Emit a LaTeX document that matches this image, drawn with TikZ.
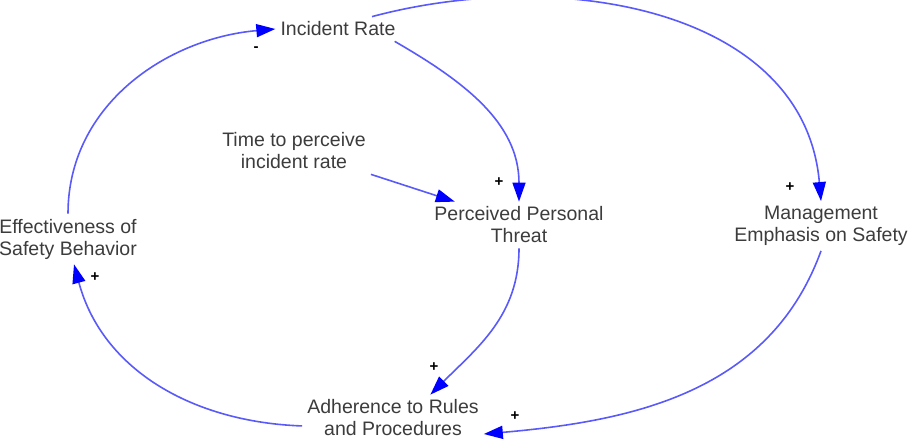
\documentclass[tikz,border=0pt]{standalone}
\usepackage{fontspec}
\setmainfont{Liberation Sans}
\usetikzlibrary{arrows.meta}
\definecolor{linkblue}{RGB}{90,90,250}
\definecolor{textgray}{RGB}{60,60,60}

\begin{document}
\begin{tikzpicture}[x=1pt, y=1pt,
    var/.style={align=center, text=textgray, inner sep=5pt, font=\fontsize{19.5}{22}\selectfont},
    link/.style={draw=linkblue, line width=1.6pt, -{Triangle[length=19pt,width=13pt,color=blue]}},
    pol/.style={font=\fontsize{15}{15}\selectfont\bfseries, text=black, inner sep=0pt}]
    \useasboundingbox (0,0) rectangle (917,446);
    % variables
    \node[var] (ir) at (338,417) {Incident Rate};
    \node[var] (time) at (294,295) {Time to perceive\\incident rate};
    \node[var] (ppt) at (519,221) {Perceived Personal\\Threat};
    \node[var] (mes) at (821,220) {Management\\Emphasis on Safety};
    \node[var] (esb) at (68,207) {Effectiveness of\\Safety Behavior};
    \node[var] (arp) at (393,28) {Adherence to Rules\\and Procedures};
    % causal links
    \draw[link] (esb.north) to[out=90, in=185] (ir.west);
    \draw[link] ([xshift=-6pt]ir.south east) to[out=-30, in=90] (ppt.north);
    \draw[link] (ir.20) to[out=15, in=95, looseness=1.02] (mes.north);
    \draw[link] (time.south east) -- (ppt.160);
    \draw[link] (ppt.south) to[out=-90, in=45] (arp.32);
    \draw[link] (mes.south) to[out=-110, in=5] (arp.-10);
    \draw[link] (arp.185) to[out=178, in=-75] ([xshift=6pt]esb.south);
    % polarities
    \node[pol] (p1) at (256,397) {-};
    \node[pol] (p2) at (499,264) {+};
    \node[pol] (p3) at (790,259) {+};
    \node[pol] (p4) at (434,79) {+};
    \node[pol] (p5) at (515,30) {+};
    \node[pol] (p6) at (95,169) {+};
\end{tikzpicture}
\end{document}
